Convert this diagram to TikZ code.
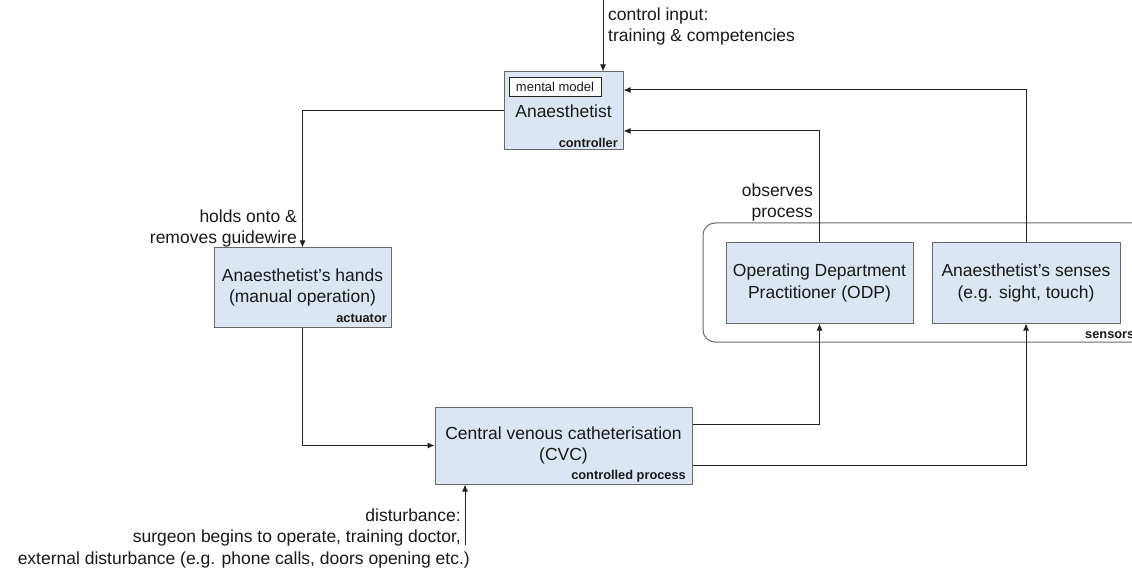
\documentclass[tikz,border=0pt]{standalone}
\usepackage{fontspec}
\setmainfont{Liberation Sans}
\usetikzlibrary{arrows.meta}
\definecolor{boxfill}{RGB}{220,230,242}
\definecolor{boxline}{RGB}{105,105,105}
\definecolor{conn}{RGB}{35,35,35}
\definecolor{txt}{RGB}{25,25,25}
\tikzset{
  mainfont/.style={font=\fontsize{17.5}{21.5}\selectfont},
  blockbox/.style={draw=boxline, fill=boxfill, line width=1pt, inner sep=0pt,
    align=center, text=txt, mainfont},
  tag/.style={font=\fontsize{12.8}{14}\selectfont\bfseries, text=txt, inner sep=0pt},
  lbl/.style={mainfont, text=txt, inner sep=0pt},
  conn/.style={draw=conn, line width=1pt, -{Latex[length=7pt,width=6pt]}},
  plain/.style={draw=conn, line width=1pt},
}
\begin{document}
\begin{tikzpicture}[x=1pt,y=-1pt]
\clip (0,0) rectangle (1132,569);
\fill[white] (0,0) rectangle (1132,569);
% sensors container
\node[draw=boxline, line width=1pt, rounded corners=12pt, minimum width=447pt, minimum height=119pt, inner sep=0pt] (sensgroup) at (926.5,282.5) {};
\node[tag, anchor=west] (sensorslbl) at (1085,335) {sensors};
% blocks
\node[blockbox, minimum width=119pt, minimum height=78pt] (anaes) at (563.5,111) {Anaesthetist};
\node[draw=conn, line width=0.8pt, fill=white, minimum width=92pt, minimum height=19pt, inner sep=0pt,
  font=\fontsize{13}{14}\selectfont, text=txt] (mental) at (555,86.5) {mental model};
\node[tag, anchor=east] (ctrl) at (618,143) {controller};
\node[blockbox, minimum width=177pt, minimum height=79pt] (hands) at (302.5,287.5) {Anaesthetist's hands\\(manual operation)};
\node[tag, anchor=east] (act) at (387,318) {actuator};
\node[blockbox, minimum width=187pt, minimum height=80pt] (odp) at (819.5,283) {Operating Department\\Practitioner (ODP)};
\node[blockbox, minimum width=188pt, minimum height=80pt] (senses) at (1026,283) {Anaesthetist's senses\\(e.g. sight, touch)};
\node[blockbox, minimum width=257pt, minimum height=77pt] (cvc) at (563.5,445.5) {Central venous catheterisation\\(CVC)};
\node[tag, anchor=east] (cp) at (686,476) {controlled process};
% labels
\node[lbl, anchor=west, align=left] (cilbl) at (608,26.5) {control input:\\training \& competencies};
\node[lbl, anchor=east, align=right] (holds) at (297,228.5) {holds onto \&\\removes guidewire};
\node[lbl, anchor=east, align=right] (obs) at (813,202.5) {observes\\process};
\node[lbl, anchor=east, align=right] (dist) at (461,538) {disturbance:\\surgeon begins to operate, training doctor,\\external disturbance (e.g. phone calls, doors opening etc.)\hspace*{-9pt}};
% free ends
\coordinate (ci) at (603,0);
\coordinate (di) at (465,545);
% connectors
\draw[conn] (ci) -- (ci |- anaes.north);
\draw[conn] (anaes.west) -| (hands.north);
\draw[conn] (hands.south) |- (cvc.west);
\draw[conn] ([yshift=21.5pt]cvc.east) -| (odp.south);
\draw[conn] ([yshift=-19.5pt]cvc.east) -| (senses.south);
\draw[conn] (odp.north) |- ([yshift=-20pt]anaes.east);
\draw[conn] (senses.north) |- ([yshift=21pt]anaes.east);
\draw[conn] (di) -- (di |- cvc.south);
\end{tikzpicture}
\end{document}
